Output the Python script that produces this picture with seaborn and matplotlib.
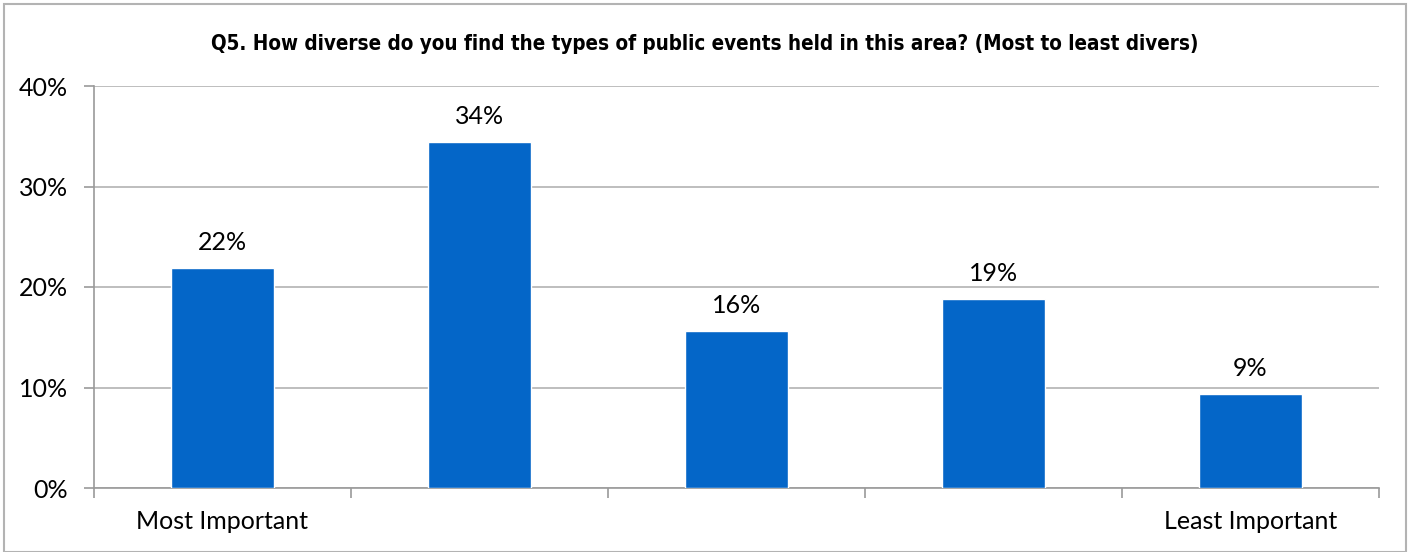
import matplotlib
matplotlib.use("Agg")
import matplotlib.pyplot as plt
import seaborn as sns
import pandas as pd
import numpy as np
from matplotlib.ticker import FuncFormatter, FixedLocator
from matplotlib.patches import Rectangle

categories = ["1", "2", "3", "4", "5"]
tick_labels = ["Most Important", "", "", "", "Least Important"]
values = [0.219, 0.344, 0.156, 0.188, 0.094]
title = "Q5. How diverse do you find the types of public events held in this area? (Most to least divers)"

sns.set_theme(style="white")
plt.rcParams['font.family'] = ['Lato', 'DejaVu Sans']

fig = plt.figure(figsize=(14.12, 5.52), dpi=100)
ax = fig.add_axes([94/1412, 1-488/552, (1379-94)/1412, (488-86)/552])

df = pd.DataFrame({"cat": categories, "val": values})
sns.barplot(data=df, x="cat", y="val", color="#0466C8", saturation=1, width=0.4, ax=ax, zorder=3)

ax.set_ylim(0, 0.40)
ax.set_xlim(-0.5, len(categories) - 0.5)
ax.yaxis.set_major_locator(FixedLocator([0, 0.1, 0.2, 0.3, 0.4]))
ax.yaxis.set_major_formatter(FuncFormatter(lambda v, p: f"{v*100:.0f}%"))
ax.grid(axis="y", color="#b3b3b3", linewidth=1.2, zorder=0)
ax.set_axisbelow(True)

ax.set_xticks(range(len(categories)))
ax.set_xticklabels(tick_labels)
ax.xaxis.set_minor_locator(FixedLocator(np.arange(-0.5, len(categories), 1.0)))
ax.tick_params(axis="x", which="both", bottom=True)
ax.tick_params(axis="y", which="both", left=True)
ax.tick_params(axis="x", which="major", length=0, pad=16, labelsize=18, colors="#000000")
ax.tick_params(axis="x", which="minor", length=7, width=1.2, color="#9a9a9a", direction="out")
ax.tick_params(axis="y", which="major", length=7, width=1.2, color="#9a9a9a", direction="out", labelsize=18, pad=12)
ax.tick_params(axis="y", labelcolor="#000000")
ax.set_xlabel("")
ax.set_ylabel("")

for s in ["top", "right"]:
    ax.spines[s].set_visible(False)
for s in ["left", "bottom"]:
    ax.spines[s].set_color("#9a9a9a")
    ax.spines[s].set_linewidth(1.2)

for c in ax.containers:
    ax.bar_label(c, labels=[f"{v*100:.0f}%" for v in values], padding=10, fontsize=18, color="#000000")

fig.text(705/1412, 1-44/552, title, ha="center", va="center", fontsize=14.8, fontweight="bold",
         fontstretch="condensed", family=['DejaVu Sans'], color="#000000")

fig.patches.append(Rectangle((4/1412, 0), 1402/1412, 1-4/552, transform=fig.transFigure,
                             fill=False, edgecolor="#b3b3b3", linewidth=1.5))

fig.savefig("out.png", dpi=100)
